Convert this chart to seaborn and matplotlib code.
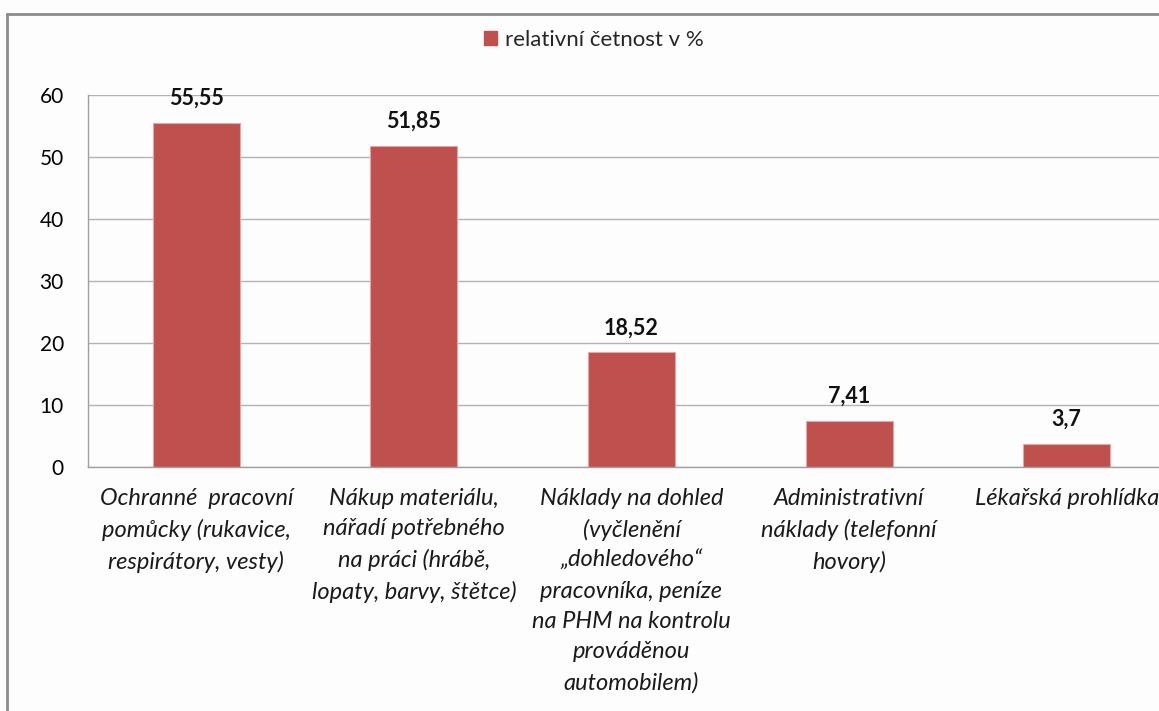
import matplotlib
matplotlib.use("Agg")
import matplotlib.pyplot as plt
import seaborn as sns
import pandas as pd
from matplotlib.lines import Line2D

# data
kategorie = [
    "Ochranné  pracovní\npomůcky (rukavice,\nrespirátory, vesty)",
    "Nákup materiálu,\nnářadí potřebného\nna práci (hrábě,\nlopaty, barvy, štětce)",
    "Náklady na dohled\n(vyčlenění\n„dohledového“\npracovníka, peníze\nna PHM na kontrolu\nprováděnou\nautomobilem)",
    "Administrativní\nnáklady (telefonní\nhovory)",
    "Lékařská prohlídka",
]
cetnost = [55.55, 51.85, 18.52, 7.41, 3.7]
popisky = ["55,55", "51,85", "18,52", "7,41", "3,7"]
y_ticks = [0, 10, 20, 30, 40, 50, 60]
nazev_rady = "relativní četnost v %"

sns.set_style("white")
plt.rcParams["font.family"] = ["Lato", "DejaVu Sans"]

df = pd.DataFrame({"kategorie": kategorie, "cetnost": cetnost})

fig = plt.figure(figsize=(11.59, 7.11), dpi=100, facecolor="#fdfdfd")
ax = fig.add_axes([87.5 / 1159, 1 - 467 / 711, 1088 / 1159, 372 / 711])
ax.set_facecolor("#fdfdfd")

sns.barplot(data=df, x="kategorie", y="cetnost", color="#C0504D", width=0.4,
            saturation=1, edgecolor="#E3A8A6", linewidth=0.8, ax=ax,
            label=nazev_rady, legend=False)

ax.set_xlim(-0.5, len(kategorie) - 0.5)
ax.set_ylim(0, 60)
ax.set_yticks(y_ticks)
ax.set_xlabel("")
ax.set_ylabel("")

# grid + axes
ax.yaxis.grid(True, color="#b3b3b3", linewidth=1)
ax.set_axisbelow(True)
for s in ["top", "right"]:
    ax.spines[s].set_visible(False)
for s in ["left", "bottom"]:
    ax.spines[s].set_color("#a0a0a0")
    ax.spines[s].set_linewidth(1)

ax.tick_params(axis="y", length=6, color="#a0a0a0", width=1, pad=11, labelsize=15, labelcolor="#000000")
ax.tick_params(axis="x", which="major", length=0, pad=15)
ax.set_xticks([i + 0.5 for i in range(len(kategorie) - 1)], minor=True)
ax.tick_params(axis="x", which="minor", length=6, color="#a0a0a0", width=1)
for t in ax.get_xticklabels():
    t.set_fontstyle("italic")
    t.set_fontsize(17)
    t.set_linespacing(1.55)
    t.set_color("#1a1a1a")

# hodnoty nad sloupci
ax.bar_label(ax.containers[0], labels=popisky, padding=10, fontsize=15.5,
             fontweight="bold", color="#111111")

# legenda nahore
fig.legend(handles=[plt.Rectangle((0, 0), 1, 1, color="#C0504D")], labels=[nazev_rady],
           loc="upper center", bbox_to_anchor=(594 / 1159, 1 - 10 / 711), frameon=False,
           fontsize=16, handlelength=0.6, handleheight=0.6, handletextpad=0.35)

# ramecek grafu (levy a horni okraj)
fig.add_artist(Line2D([7 / 1159, 7 / 1159], [0, 1 - 14 / 711], color="#8c8c8c", linewidth=2,
                      transform=fig.transFigure))
fig.add_artist(Line2D([7 / 1159, 1], [1 - 14 / 711, 1 - 14 / 711], color="#8c8c8c", linewidth=2,
                      transform=fig.transFigure))

fig.savefig("out.png", dpi=100, facecolor=fig.get_facecolor())
